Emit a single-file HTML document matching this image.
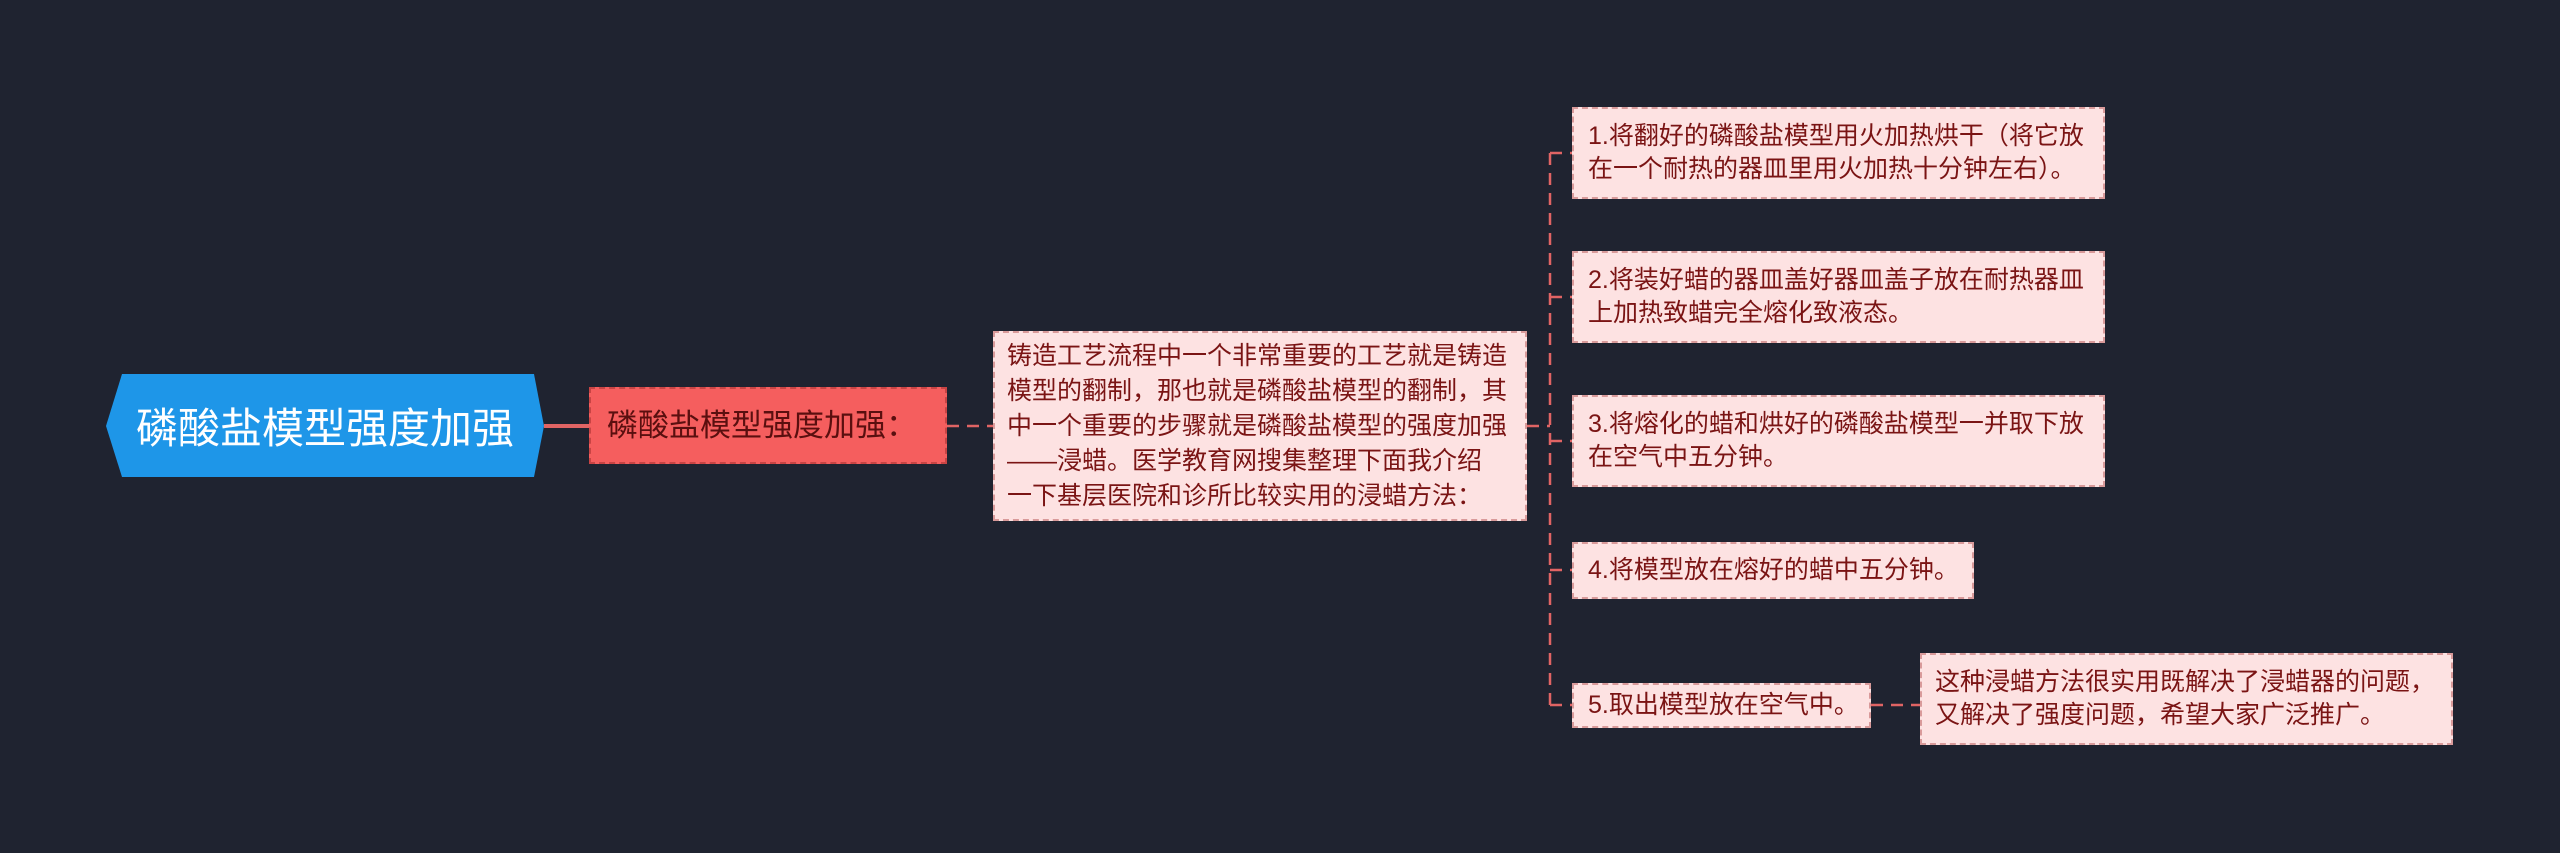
<!DOCTYPE html>
<html><head><meta charset="utf-8"><style>
body{margin:0;width:2560px;height:853px;background:#1f2330;position:relative;overflow:hidden;font-family:"Liberation Sans","Noto Sans CJK SC",sans-serif}
.b{position:absolute;box-sizing:border-box;background:#fde2e2;border:2px dashed #d99a9a;color:#7a1414;font-size:25px;line-height:33px;padding:0 12px 0 14px;display:flex;align-items:center}
svg{position:absolute;left:0;top:0}
</style></head><body>
<svg width="2560" height="853">
<g stroke="#e06464" stroke-width="2.5" fill="none" stroke-dasharray="12,8">
<line x1="544" y1="426" x2="589" y2="426" stroke-dasharray="none" stroke-width="4"/>
<line x1="947" y1="426" x2="993" y2="426"/>
<line x1="1527" y1="426" x2="1550" y2="426"/>
<line x1="1550" y1="153" x2="1550" y2="705"/>
<line x1="1550" y1="153" x2="1572" y2="153"/>
<line x1="1550" y1="297" x2="1572" y2="297"/>
<line x1="1550" y1="441" x2="1572" y2="441"/>
<line x1="1550" y1="570" x2="1572" y2="570"/>
<line x1="1550" y1="705" x2="1572" y2="705"/>
<line x1="1871" y1="705" x2="1920" y2="705"/>
</g>
<polygon points="122,374 534,374 544,426 534,477 122,477 106,426" fill="#1e96e8"/>
</svg>
<div style="position:absolute;left:106px;top:374px;width:438px;height:103px;display:flex;align-items:center;justify-content:center;color:#fff;font-size:42px">磷酸盐模型强度加强</div>
<div class="b" style="left:589px;top:387px;width:358px;height:77px;background:#f55e5e;border-color:#c84444;color:#5a0f0f;font-size:31px;padding-left:16px;white-space:nowrap">磷酸盐模型强度加强：</div>
<div class="b" style="left:993px;top:331px;width:534px;height:190px;line-height:35px;padding:0 14px 0 12px"><div>铸造工艺流程中一个非常重要的工艺就是铸造模型的翻制，那也就是磷酸盐模型的翻制，其中一个重要的步骤就是磷酸盐模型的强度加强——浸蜡。医学教育网搜集整理下面我介绍<br>一下基层医院和诊所比较实用的浸蜡方法：</div></div>
<div class="b" style="left:1572px;top:107px;width:533px;height:92px">1.将翻好的磷酸盐模型用火加热烘干（将它放在一个耐热的器皿里用火加热十分钟左右）。</div>
<div class="b" style="left:1572px;top:251px;width:533px;height:92px">2.将装好蜡的器皿盖好器皿盖子放在耐热器皿上加热致蜡完全熔化致液态。</div>
<div class="b" style="left:1572px;top:395px;width:533px;height:92px">3.将熔化的蜡和烘好的磷酸盐模型一并取下放在空气中五分钟。</div>
<div class="b" style="left:1572px;top:542px;width:402px;height:57px;white-space:nowrap">4.将模型放在熔好的蜡中五分钟。</div>
<div class="b" style="left:1572px;top:683px;width:299px;height:45px;white-space:nowrap">5.取出模型放在空气中。</div>
<div class="b" style="left:1920px;top:653px;width:533px;height:92px;padding-left:13px">这种浸蜡方法很实用既解决了浸蜡器的问题，又解决了强度问题，希望大家广泛推广。</div>
</body></html>
